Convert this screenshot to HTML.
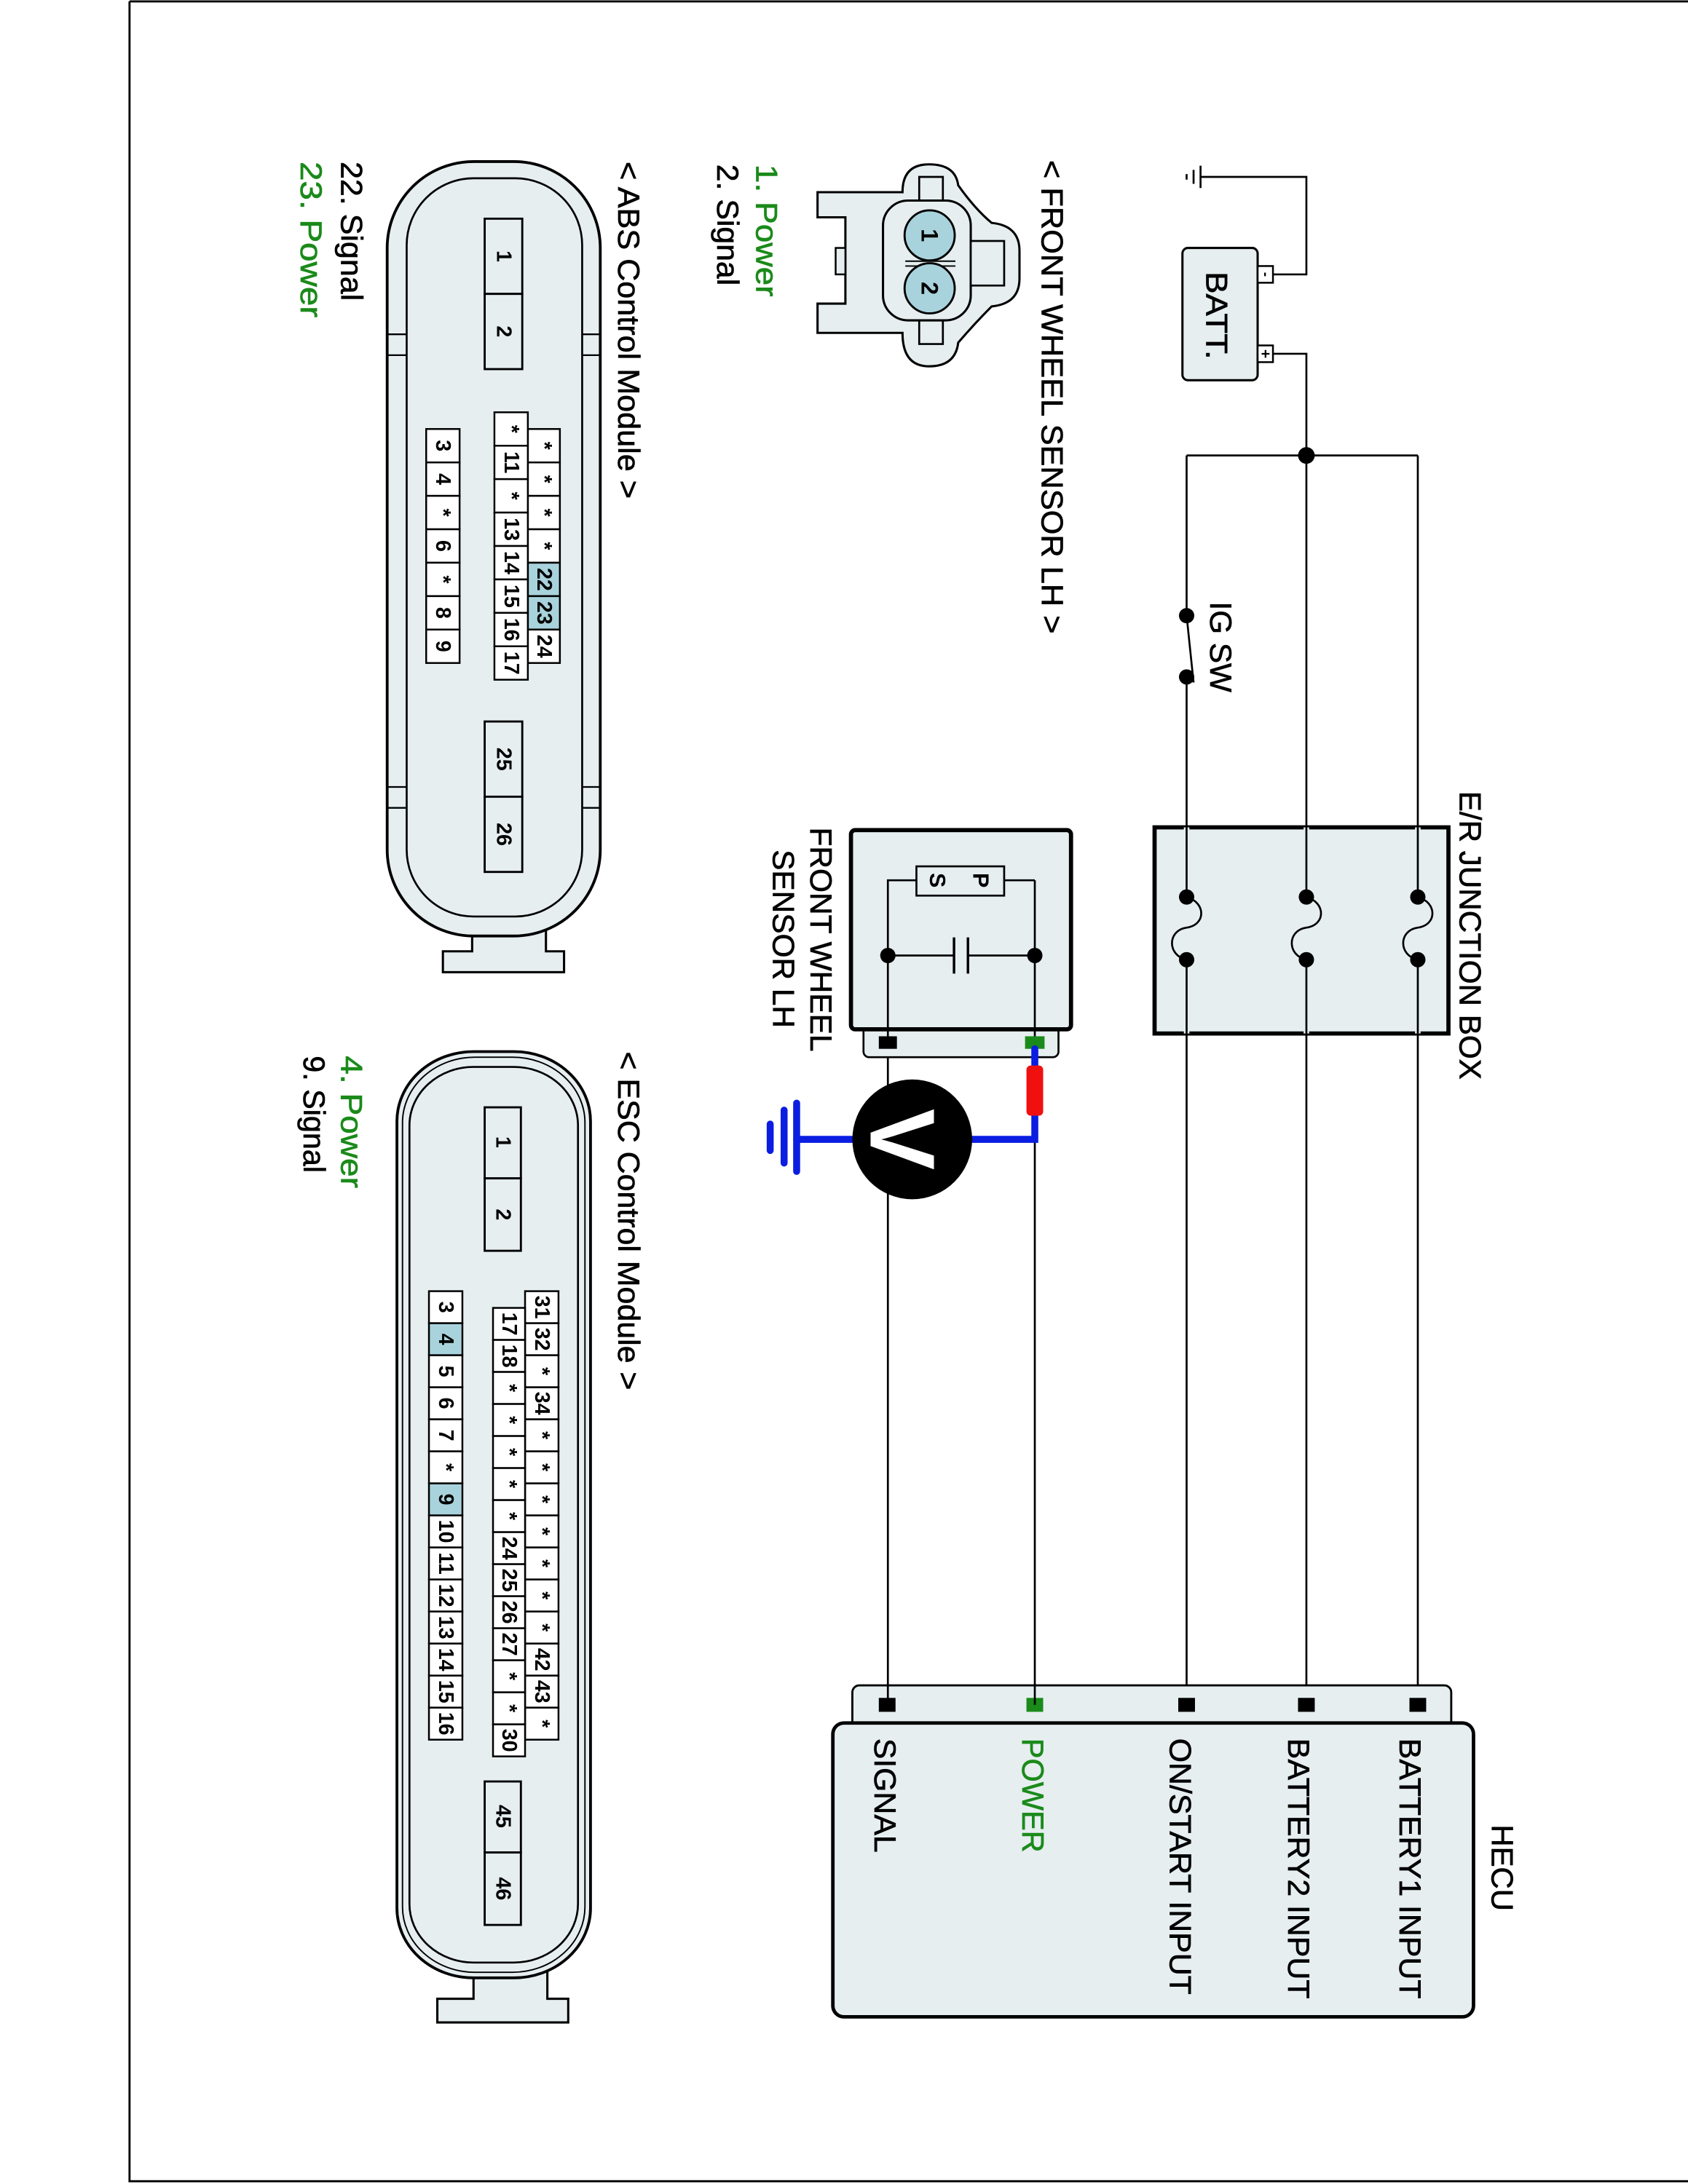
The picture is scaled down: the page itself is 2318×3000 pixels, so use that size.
<!DOCTYPE html>
<html><head><meta charset="utf-8"><style>
html,body{margin:0;padding:0;background:#fff;}
svg{display:block;}
text{font-family:"Liberation Sans",Arial,sans-serif;}
.lb{font-size:22px;fill:#000;stroke:#000;stroke-width:0.35;}
.g{fill:#1a8a1a;stroke:#1a8a1a;}
.pn{font-size:15px;font-weight:bold;text-anchor:middle;dominant-baseline:central;}
</style></head><body>
<svg width="2318" height="3000" viewBox="0 0 1212 1568" preserveAspectRatio="none" xmlns="http://www.w3.org/2000/svg">
<rect x="0" y="0" width="1212" height="1568" fill="#fff"/>
<path d="M93,1 L1212,1 M93,1 L93,1566 L1212,1566" stroke="#000" stroke-width="1.5" fill="none"/>

<g stroke="#000" stroke-width="1.4" fill="none">
<path d="M862,127 L938,127 L938,197 L913,197"/>
<path d="M862,119 L862,135 M857,122 L857,132 M852,125 L852,129"/>
<path d="M913,254 L938,254 L938,1224"/>
<path d="M852,327 L1018,327"/>
<path d="M852,327 L852,442 M852,486 L852,1224"/>
<path d="M1018,327 L1018,1224"/>
<path d="M852,442 L857,490"/>
</g>
<rect x="849" y="178" width="54" height="95" rx="4" fill="#e6eef0" stroke="#000" stroke-width="1.6"/>
<rect x="903" y="191" width="11" height="12" fill="#fff" stroke="#000" stroke-width="1.3"/>
<rect x="903" y="248" width="11" height="12" fill="#fff" stroke="#000" stroke-width="1.3"/>
<text class="pn" style="font-size:10px" transform="translate(908.5,197) rotate(90)">-</text>
<text class="pn" style="font-size:11px" transform="translate(908.5,254) rotate(90)">+</text>
<text class="lb" transform="translate(866,195) rotate(90)" textLength="63" lengthAdjust="spacingAndGlyphs">BATT.</text>
<circle cx="938" cy="327" r="6" fill="#000"/>
<circle cx="852" cy="442" r="5.5" fill="#000"/>
<circle cx="852" cy="486" r="5.5" fill="#000"/>
<text class="lb" transform="translate(869,432) rotate(90)" textLength="65" lengthAdjust="spacingAndGlyphs">IG SW</text>

<rect x="829" y="594" width="211" height="148" fill="#e6eef0" stroke="#000" stroke-width="3"/>
<g stroke="#000" stroke-width="1.4" fill="none">
<path d="M852,594 L852,742 M938,594 L938,742 M1018,594 L1018,742" stroke="#e6eef0" stroke-width="4"/>
<path d="M852,594 L852,644 M852,689 L852,742 M938,594 L938,644 M938,689 L938,742 M1018,594 L1018,644 M1018,689 L1018,742"/>
<path d="M852,644 C866,648 866,664 852,666 C838,668 838,686 852,689"/>
<path d="M938,644 C952,648 952,664 938,666 C924,668 924,686 938,689"/>
<path d="M1018,644 C1032,648 1032,664 1018,666 C1004,668 1004,686 1018,689"/>
</g>
<g fill="#000">
<circle cx="852" cy="644" r="5.5"/><circle cx="852" cy="689" r="5.5"/>
<circle cx="938" cy="644" r="5.5"/><circle cx="938" cy="689" r="5.5"/>
<circle cx="1018" cy="644" r="5.5"/><circle cx="1018" cy="689" r="5.5"/>
</g>
<text class="lb" transform="translate(1048,568) rotate(90)" textLength="207" lengthAdjust="spacingAndGlyphs">E/R JUNCTION BOX</text>

<rect x="612" y="1210" width="430" height="32" rx="5" fill="#e6eef0" stroke="#000" stroke-width="1.5"/>
<rect x="598" y="1237" width="460" height="211" rx="8" fill="#e6eef0" stroke="#000" stroke-width="2.5"/>
<g fill="#000">
<rect x="631" y="1219" width="12" height="10"/>
<rect x="846" y="1219" width="12" height="10"/>
<rect x="932" y="1219" width="12" height="10"/>
<rect x="1012" y="1219" width="12" height="10"/>
</g>
<rect x="737" y="1219" width="12" height="10" fill="#1a8a1a"/>
<text class="lb" transform="translate(1071,1310) rotate(90)" textLength="62" lengthAdjust="spacingAndGlyphs">HECU</text>
<text class="lb" transform="translate(1005,1248) rotate(90)" textLength="187" lengthAdjust="spacingAndGlyphs">BATTERY1 INPUT</text>
<text class="lb" transform="translate(925,1248) rotate(90)" textLength="187" lengthAdjust="spacingAndGlyphs">BATTERY2 INPUT</text>
<text class="lb" transform="translate(840,1248) rotate(90)" textLength="184" lengthAdjust="spacingAndGlyphs">ON/START INPUT</text>
<text class="lb g" transform="translate(734,1248) rotate(90)" textLength="82" lengthAdjust="spacingAndGlyphs">POWER</text>
<text class="lb" transform="translate(628,1248) rotate(90)" textLength="82" lengthAdjust="spacingAndGlyphs">SIGNAL</text>

<rect x="620" y="735" width="140" height="24" rx="4" fill="#e6eef0" stroke="#000" stroke-width="1.4"/>
<rect x="611" y="596" width="158" height="143" rx="3" fill="#e6eef0" stroke="#000" stroke-width="3"/>
<g stroke="#000" stroke-width="1.4" fill="none">
<path d="M637.5,748 L637.5,632 L658,632"/>
<path d="M743,632 L721,632 M743,632 L743,748"/>
<path d="M637.5,686 L685,686 M695,686 L743,686"/>
<path d="M685,673 L685,699 M695,673 L695,699" stroke-width="1.8"/>
<path d="M637.5,759 L637.5,1224"/>
<path d="M743,818 L743,1224"/>
</g>
<rect x="658" y="622" width="63" height="21" fill="#e6eef0" stroke="#000" stroke-width="1.4"/>
<text class="pn" style="font-size:16px" transform="translate(704,632) rotate(90)">P</text>
<text class="pn" style="font-size:16px" transform="translate(673,632) rotate(90)">S</text>
<circle cx="637.5" cy="686" r="5.5" fill="#000"/>
<circle cx="743" cy="686" r="5.5" fill="#000"/>
<rect x="631" y="744" width="13" height="9" fill="#000"/>
<rect x="736" y="744" width="14" height="9" fill="#1a8a1a"/>
<text class="lb" transform="translate(582,594) rotate(90)" textLength="161" lengthAdjust="spacingAndGlyphs">FRONT WHEEL</text>
<text class="lb" transform="translate(555,610) rotate(90)" textLength="128" lengthAdjust="spacingAndGlyphs">SENSOR LH</text>

<g stroke="#0a1de0" stroke-width="5" fill="none" stroke-linecap="round">
<path d="M743,753 L743,818 L690,818"/>
<path d="M612,818 L572,818"/>
<path d="M572,792 L572,841 M563,797 L563,835 M553,807 L553,826"/>
</g>
<rect x="737" y="765" width="12" height="36" rx="3" fill="#f01010"/>
<circle cx="655" cy="818" r="43" fill="#000"/>
<text transform="translate(625,818) rotate(90)" style="font-size:66px;font-weight:bold;fill:#fff;text-anchor:middle">V</text>

<path d="M587,138 L648,138 Q648,118 667,118 Q686,118 688,133 Q700,150 712,160 Q732,162 732,180 L732,200 Q732,218 712,220 Q700,232 688,246 Q686,263 667,263 Q648,263 648,239 L587,239 L587,218 L607,218 L607,156 L587,156 Z" fill="#e6eef0" stroke="#000" stroke-width="1.6"/>
<rect x="600" y="178" width="7" height="19" fill="#e6eef0" stroke="#000" stroke-width="1.3"/>
<path d="M660,145 L660,127 L677,127 L677,145 M660,230 L660,247 L677,247 L677,230" fill="#e6eef0" stroke="#000" stroke-width="1.4"/>
<rect x="634" y="144" width="63" height="86" rx="18" fill="#e6eef0" stroke="#000" stroke-width="1.6"/>
<rect x="697" y="173" width="24" height="32" fill="#e6eef0" stroke="#000" stroke-width="1.4"/>
<path d="M650,187.5 L686,187.5 M650,191 L686,191" stroke="#000" stroke-width="1"/>
<circle cx="667.5" cy="169" r="18" fill="#a9d3dc" stroke="#000" stroke-width="1.5"/>
<circle cx="667.5" cy="207" r="18" fill="#a9d3dc" stroke="#000" stroke-width="1.5"/>
<text class="pn" style="font-size:17px" transform="translate(667.5,169) rotate(90)">1</text>
<text class="pn" style="font-size:17px" transform="translate(667.5,207) rotate(90)">2</text>
<text class="lb" transform="translate(748,115) rotate(90)" textLength="340" lengthAdjust="spacingAndGlyphs">&lt; FRONT WHEEL SENSOR LH &gt;</text>
<text class="lb g" transform="translate(543,118) rotate(90)" textLength="95" lengthAdjust="spacingAndGlyphs">1. Power</text>
<text class="lb" transform="translate(515,118) rotate(90)" textLength="87" lengthAdjust="spacingAndGlyphs">2. Signal</text>

<path d="M339,665 L339,683 L318,683 L318,698 L405,698 L405,683 L392,683 L392,665 Z" fill="#e6eef0" stroke="#000" stroke-width="1.6"/>
<rect x="278" y="116" width="153" height="556" rx="62" ry="62" fill="#e6eef0" stroke="#000" stroke-width="2"/>
<rect x="292" y="128" width="126" height="530" rx="48" ry="48" fill="#e6eef0" stroke="#000" stroke-width="1.4"/>
<g stroke="#000" stroke-width="1.2" fill="none">
<path d="M278,240 L292,240 M278,255 L292,255 M418,240 L431,240 M418,255 L431,255"/>
<path d="M278,565 L292,565 M278,580 L292,580 M418,565 L431,565 M418,580 L431,580"/>
</g>
<g stroke="#000" stroke-width="1.5" fill="#e6eef0">
<rect x="348" y="157" width="27" height="54"/><rect x="348" y="211" width="27" height="54"/>
<rect x="348" y="518" width="27" height="54"/><rect x="348" y="572" width="27" height="54"/>
</g>
<text class="pn" transform="translate(361.5,184) rotate(90)">1</text>
<text class="pn" transform="translate(361.5,238) rotate(90)">2</text>
<text class="pn" transform="translate(361.5,545) rotate(90)">25</text>
<text class="pn" transform="translate(361.5,599) rotate(90)">26</text>
<g stroke="#000" stroke-width="1.3" fill="#fff">
<rect x="379" y="308" width="23" height="24"/><rect x="379" y="332" width="23" height="24"/><rect x="379" y="356" width="23" height="24"/><rect x="379" y="380" width="23" height="24"/><rect x="379" y="404" width="23" height="24" fill="#a9d3dc"/><rect x="379" y="428" width="23" height="24" fill="#a9d3dc"/><rect x="379" y="452" width="23" height="24"/>
<rect x="355" y="296" width="24" height="24"/><rect x="355" y="320" width="24" height="24"/><rect x="355" y="344" width="24" height="24"/><rect x="355" y="368" width="24" height="24"/><rect x="355" y="392" width="24" height="24"/><rect x="355" y="416" width="24" height="24"/><rect x="355" y="440" width="24" height="24"/><rect x="355" y="464" width="24" height="24"/>
<rect x="306" y="308" width="24" height="24"/><rect x="306" y="332" width="24" height="24"/><rect x="306" y="356" width="24" height="24"/><rect x="306" y="380" width="24" height="24"/><rect x="306" y="404" width="24" height="24"/><rect x="306" y="428" width="24" height="24"/><rect x="306" y="452" width="24" height="24"/>
</g>
<g>
<text class="pn" transform="translate(390.5,320) rotate(90)">*</text><text class="pn" transform="translate(390.5,344) rotate(90)">*</text><text class="pn" transform="translate(390.5,368) rotate(90)">*</text><text class="pn" transform="translate(390.5,392) rotate(90)">*</text><text class="pn" transform="translate(390.5,416) rotate(90)">22</text><text class="pn" transform="translate(390.5,440) rotate(90)">23</text><text class="pn" transform="translate(390.5,464) rotate(90)">24</text>
<text class="pn" transform="translate(367,308) rotate(90)">*</text><text class="pn" transform="translate(367,332) rotate(90)">11</text><text class="pn" transform="translate(367,356) rotate(90)">*</text><text class="pn" transform="translate(367,380) rotate(90)">13</text><text class="pn" transform="translate(367,404) rotate(90)">14</text><text class="pn" transform="translate(367,428) rotate(90)">15</text><text class="pn" transform="translate(367,452) rotate(90)">16</text><text class="pn" transform="translate(367,476) rotate(90)">17</text>
<text class="pn" transform="translate(318,320) rotate(90)">3</text><text class="pn" transform="translate(318,344) rotate(90)">4</text><text class="pn" transform="translate(318,368) rotate(90)">*</text><text class="pn" transform="translate(318,392) rotate(90)">6</text><text class="pn" transform="translate(318,416) rotate(90)">*</text><text class="pn" transform="translate(318,440) rotate(90)">8</text><text class="pn" transform="translate(318,464) rotate(90)">9</text>
</g>
<text class="lb" transform="translate(444,116) rotate(90)" textLength="242" lengthAdjust="spacingAndGlyphs">&lt; ABS Control Module &gt;</text>
<text class="lb" transform="translate(245,116) rotate(90)" textLength="100" lengthAdjust="spacingAndGlyphs">22. Signal</text>
<text class="lb g" transform="translate(216,116) rotate(90)" textLength="112" lengthAdjust="spacingAndGlyphs">23. Power</text>

<path d="M340,1415 L340,1435 L314,1435 L314,1452 L408,1452 L408,1435 L393,1435 L393,1415 Z" fill="#e6eef0" stroke="#000" stroke-width="1.6"/>
<rect x="285" y="755" width="139" height="665" rx="55" ry="50" fill="#e6eef0" stroke="#000" stroke-width="2"/>
<rect x="289" y="759" width="131" height="657" rx="52" ry="47" fill="none" stroke="#000" stroke-width="1"/>
<rect x="294" y="766" width="121" height="643" rx="46" ry="42" fill="#e6eef0" stroke="#000" stroke-width="1.4"/>
<g stroke="#000" stroke-width="1.5" fill="#e6eef0">
<rect x="348" y="795" width="26" height="51"/><rect x="348" y="846" width="26" height="52"/>
<rect x="348" y="1279" width="26" height="51"/><rect x="348" y="1330" width="26" height="52"/>
</g>
<text class="pn" transform="translate(361,820) rotate(90)">1</text>
<text class="pn" transform="translate(361,872) rotate(90)">2</text>
<text class="pn" transform="translate(361,1304) rotate(90)">45</text>
<text class="pn" transform="translate(361,1356) rotate(90)">46</text>
<g stroke="#000" stroke-width="1.3" fill="#fff">
<rect x="377" y="927" width="24" height="23"/><rect x="377" y="950" width="24" height="23"/><rect x="377" y="973" width="24" height="23"/><rect x="377" y="996" width="24" height="23"/><rect x="377" y="1019" width="24" height="23"/><rect x="377" y="1042" width="24" height="23"/><rect x="377" y="1065" width="24" height="23"/><rect x="377" y="1088" width="24" height="23"/><rect x="377" y="1111" width="24" height="23"/><rect x="377" y="1134" width="24" height="23"/><rect x="377" y="1157" width="24" height="23"/><rect x="377" y="1180" width="24" height="23"/><rect x="377" y="1203" width="24" height="23"/><rect x="377" y="1226" width="24" height="23"/>
<rect x="354" y="939" width="23" height="23"/><rect x="354" y="962" width="23" height="23"/><rect x="354" y="985" width="23" height="23"/><rect x="354" y="1008" width="23" height="23"/><rect x="354" y="1031" width="23" height="23"/><rect x="354" y="1054" width="23" height="23"/><rect x="354" y="1077" width="23" height="23"/><rect x="354" y="1100" width="23" height="23"/><rect x="354" y="1123" width="23" height="23"/><rect x="354" y="1146" width="23" height="23"/><rect x="354" y="1169" width="23" height="23"/><rect x="354" y="1192" width="23" height="23"/><rect x="354" y="1215" width="23" height="23"/><rect x="354" y="1238" width="23" height="23"/>
<rect x="308" y="927" width="24" height="23"/><rect x="308" y="950" width="24" height="23" fill="#a9d3dc"/><rect x="308" y="973" width="24" height="23"/><rect x="308" y="996" width="24" height="23"/><rect x="308" y="1019" width="24" height="23"/><rect x="308" y="1042" width="24" height="23"/><rect x="308" y="1065" width="24" height="23" fill="#a9d3dc"/><rect x="308" y="1088" width="24" height="23"/><rect x="308" y="1111" width="24" height="23"/><rect x="308" y="1134" width="24" height="23"/><rect x="308" y="1157" width="24" height="23"/><rect x="308" y="1180" width="24" height="23"/><rect x="308" y="1203" width="24" height="23"/><rect x="308" y="1226" width="24" height="23"/>
</g>
<g>
<text class="pn" transform="translate(389,938.5) rotate(90)">31</text><text class="pn" transform="translate(389,961.5) rotate(90)">32</text><text class="pn" transform="translate(389,984.5) rotate(90)">*</text><text class="pn" transform="translate(389,1007.5) rotate(90)">34</text><text class="pn" transform="translate(389,1030.5) rotate(90)">*</text><text class="pn" transform="translate(389,1053.5) rotate(90)">*</text><text class="pn" transform="translate(389,1076.5) rotate(90)">*</text><text class="pn" transform="translate(389,1099.5) rotate(90)">*</text><text class="pn" transform="translate(389,1122.5) rotate(90)">*</text><text class="pn" transform="translate(389,1145.5) rotate(90)">*</text><text class="pn" transform="translate(389,1168.5) rotate(90)">*</text><text class="pn" transform="translate(389,1191.5) rotate(90)">42</text><text class="pn" transform="translate(389,1214.5) rotate(90)">43</text><text class="pn" transform="translate(389,1237.5) rotate(90)">*</text>
<text class="pn" transform="translate(365.5,950.5) rotate(90)">17</text><text class="pn" transform="translate(365.5,973.5) rotate(90)">18</text><text class="pn" transform="translate(365.5,996.5) rotate(90)">*</text><text class="pn" transform="translate(365.5,1019.5) rotate(90)">*</text><text class="pn" transform="translate(365.5,1042.5) rotate(90)">*</text><text class="pn" transform="translate(365.5,1065.5) rotate(90)">*</text><text class="pn" transform="translate(365.5,1088.5) rotate(90)">*</text><text class="pn" transform="translate(365.5,1111.5) rotate(90)">24</text><text class="pn" transform="translate(365.5,1134.5) rotate(90)">25</text><text class="pn" transform="translate(365.5,1157.5) rotate(90)">26</text><text class="pn" transform="translate(365.5,1180.5) rotate(90)">27</text><text class="pn" transform="translate(365.5,1203.5) rotate(90)">*</text><text class="pn" transform="translate(365.5,1226.5) rotate(90)">*</text><text class="pn" transform="translate(365.5,1249.5) rotate(90)">30</text>
<text class="pn" transform="translate(320,938.5) rotate(90)">3</text><text class="pn" transform="translate(320,961.5) rotate(90)">4</text><text class="pn" transform="translate(320,984.5) rotate(90)">5</text><text class="pn" transform="translate(320,1007.5) rotate(90)">6</text><text class="pn" transform="translate(320,1030.5) rotate(90)">7</text><text class="pn" transform="translate(320,1053.5) rotate(90)">*</text><text class="pn" transform="translate(320,1076.5) rotate(90)">9</text><text class="pn" transform="translate(320,1099.5) rotate(90)">10</text><text class="pn" transform="translate(320,1122.5) rotate(90)">11</text><text class="pn" transform="translate(320,1145.5) rotate(90)">12</text><text class="pn" transform="translate(320,1168.5) rotate(90)">13</text><text class="pn" transform="translate(320,1191.5) rotate(90)">14</text><text class="pn" transform="translate(320,1214.5) rotate(90)">15</text><text class="pn" transform="translate(320,1237.5) rotate(90)">16</text>
</g>
<text class="lb" transform="translate(444,755) rotate(90)" textLength="243" lengthAdjust="spacingAndGlyphs">&lt; ESC Control Module &gt;</text>
<text class="lb g" transform="translate(245,758) rotate(90)" textLength="95" lengthAdjust="spacingAndGlyphs">4. Power</text>
<text class="lb" transform="translate(218,758) rotate(90)" textLength="84" lengthAdjust="spacingAndGlyphs">9. Signal</text>
</svg>
</body></html>
